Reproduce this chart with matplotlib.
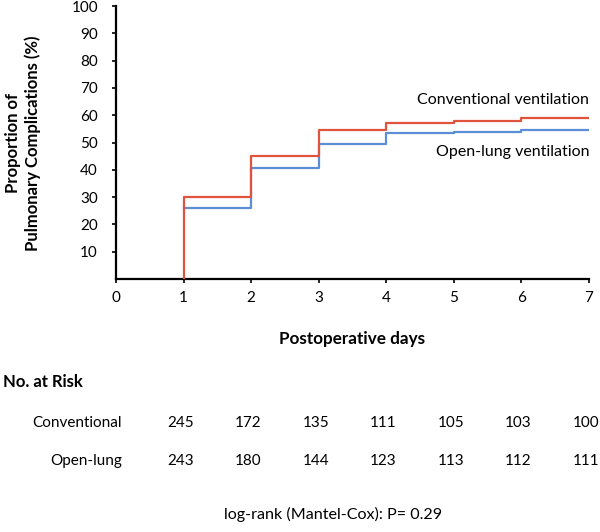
import matplotlib.pyplot as plt
import matplotlib.transforms as mtransforms

plt.rcParams['font.family'] = ['Lato', 'DejaVu Sans']

# step data: value after each event day
days = [1, 2, 3, 4, 5, 6, 7]
conventional = [30, 45, 54.7, 57, 57.8, 59, 59]
open_lung = [26, 40.6, 49.3, 53.3, 53.8, 54.4, 54.4]

risk_days = [1, 2, 3, 4, 5, 6, 7]
risk_conventional = [245, 172, 135, 111, 105, 103, 100]
risk_open_lung = [243, 180, 144, 123, 113, 112, 111]

red = '#E0533D'
blue = '#5B8ED6'

fig = plt.figure(figsize=(6, 5.32), dpi=100)
ax = fig.add_axes([116 / 600, 1 - 279 / 532, (589 - 116) / 600, (279 - 6) / 532])

ax.step(days, open_lung, where='post', color=blue, lw=1.6, zorder=2)
ax.step([1] + days, [0] + conventional, where='post', color=red, lw=1.6, zorder=3)

ax.set_xlim(0, 7)
ax.set_ylim(0, 100)
ax.set_xticks(range(0, 8))
ax.set_yticks(range(10, 101, 10))
ax.tick_params(labelsize=11, width=1.2, length=3, direction='out', color='black')
ax.tick_params(axis='y', pad=10)
ax.tick_params(axis='x', pad=6)
for s in ['top', 'right']:
    ax.spines[s].set_visible(False)
for s in ['left', 'bottom']:
    ax.spines[s].set_linewidth(1.6)

ax.text(7, 65.6, 'Conventional ventilation', ha='right', va='center', fontsize=11.5)
ax.text(7, 46.5, 'Open-lung ventilation', ha='right', va='center', fontsize=11.5)

fig.text(13 / 600, 1 - 143 / 532, 'Proportion of', rotation=90, ha='center', va='center',
         fontsize=12, fontweight='bold')
fig.text(33 / 600, 1 - 143 / 532, 'Pulmonary Complications (%)', rotation=90, ha='center',
         va='center', fontsize=12, fontweight='bold')

fig.text(352 / 600, 1 - 339 / 532, 'Postoperative days', ha='center', va='center',
         fontsize=12.3, fontweight='bold')
fig.text(3 / 600, 1 - 382 / 532, 'No. at Risk', ha='left', va='center',
         fontsize=12, fontweight='bold')

# risk table columns follow the x axis scale, nudged slightly left
trans = mtransforms.blended_transform_factory(ax.transData, fig.transFigure) + \
    mtransforms.ScaledTranslation(-3 / 100, 0, fig.dpi_scale_trans)
y1 = 1 - 423 / 532
y2 = 1 - 461 / 532
fig.text(122 / 600, y1, 'Conventional', ha='right', va='center', fontsize=11)
fig.text(122 / 600, y2, 'Open-lung', ha='right', va='center', fontsize=11)
for d, a, b in zip(risk_days, risk_conventional, risk_open_lung):
    ax.text(d, y1, str(a), transform=trans, ha='center', va='center', fontsize=11, clip_on=False)
    ax.text(d, y2, str(b), transform=trans, ha='center', va='center', fontsize=11, clip_on=False)

fig.text(333 / 600, 1 - 514 / 532, 'log-rank (Mantel-Cox): P= 0.29', ha='center', va='center',
         fontsize=11.6)

fig.savefig('out.png', dpi=100)
